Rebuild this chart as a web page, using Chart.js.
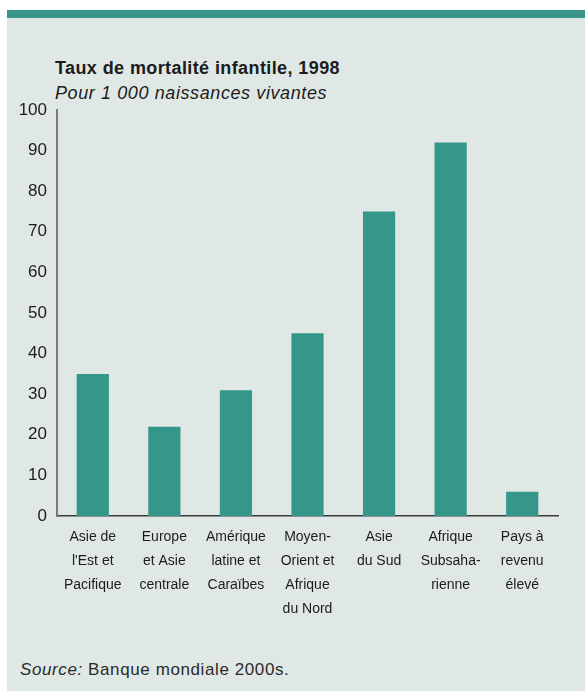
<!DOCTYPE html>
<html>
<head>
<meta charset="utf-8">
<script src="https://cdn.jsdelivr.net/npm/chart.js@4"></script>
<style>
  body { margin: 0; background: #fff; font-family: "Liberation Sans", Arial, sans-serif; color: #1c1c1c; }
  #page { position: relative; width: 585px; height: 691px; overflow: hidden; }
  #panel { position: absolute; left: 7px; top: 10px; width: 578px; height: 681px; background: #dfe8e5; }
  #band { position: absolute; left: 7px; top: 10px; width: 578px; height: 8px; background: #3a968a; }
  .txt { position: absolute; white-space: nowrap; }
  #title { left: 55px; top: 59px; font-size: 18px; line-height: 18px; font-weight: bold; letter-spacing: 0.4px; }
  #subtitle { left: 55px; top: 84px; font-size: 18px; line-height: 18px; font-style: italic; letter-spacing: 0.6px; }
  #source { left: 20px; top: 661px; font-size: 17px; line-height: 17px; color: #2a2a2a; letter-spacing: 0.6px; }
  canvas { position: absolute; left: 0; top: 0; }
</style>
</head>
<body>
<div id="page">
  <div id="panel"></div>
  <div id="band"></div>
  <div class="txt" id="title">Taux de mortalité infantile, 1998</div>
  <div class="txt" id="subtitle">Pour 1 000 naissances vivantes</div>
  <div class="txt" id="source"><i>Source:</i> Banque mondiale 2000s.</div>
  <canvas id="chart" width="585" height="691"></canvas>
</div>
<script>
// Régions (libellés sur plusieurs lignes)
const regions = [
    ['Asie de', "l'Est et", 'Pacifique'],
    ['Europe', 'et Asie', 'centrale'],
    ['Amérique', 'latine et', 'Caraïbes'],
    ['Moyen-', 'Orient et', 'Afrique', 'du Nord'],
    ['Asie', 'du Sud'],
    ['Afrique', 'Subsaha-', 'rienne'],
    ['Pays à', 'revenu', 'élevé']
];
// Décès pour 1 000 naissances vivantes
const mortalite = [35, 22, 31, 45, 75, 92, 6];
const yMin = 0;
const yMax = 100;
const yStep = 10;

const ctx = document.getElementById('chart');

new Chart(ctx, {
    type: 'bar',
    data: {
        labels: regions,
        datasets: [{
            data: mortalite,
            backgroundColor: '#35968a',
            borderWidth: 0,
            barPercentage: 0.45,
            categoryPercentage: 1
        }]
    },
    options: {
        responsive: false,
        animation: false,
        layout: { padding: { top: 110, right: 27, left: 0, bottom: 0 } },
        plugins: {
            legend: { display: false },
            tooltip: { enabled: false }
        },
        scales: {
            x: {
                grid: { display: false, drawTicks: false },
                border: { display: true, color: '#3a3a3a', width: 1.5 },
                ticks: {
                    color: '#1c1c1c',
                    font: { family: "'Liberation Sans', Arial, sans-serif", size: 14, lineHeight: 24 / 14 },
                    padding: 9,
                    maxRotation: 0,
                    autoSkip: false
                },
                afterFit: scale => { scale.height = 175; }
            },
            y: {
                min: yMin,
                max: yMax,
                grid: { display: false, drawTicks: false },
                border: { display: true, color: '#7a7a7a', width: 2 },
                ticks: {
                    stepSize: yStep,
                    color: '#1c1c1c',
                    font: { family: "'Liberation Sans', Arial, sans-serif", size: 17 },
                    padding: 10
                },
                afterFit: scale => { scale.width = 57; }
            }
        }
    }
});
</script>
</body>
</html>
